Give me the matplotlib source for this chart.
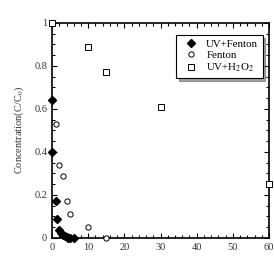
import matplotlib
matplotlib.use("Agg")
import matplotlib.pyplot as plt
from matplotlib.ticker import MultipleLocator

plt.rcParams['font.family'] = ['Liberation Serif', 'DejaVu Serif']
plt.rcParams['mathtext.fontset'] = 'stix'

# UV+Fenton
t_uvf = [0, 0, 1, 1.5, 2, 2.5, 3, 3.5, 4, 4.5, 5, 6]
c_uvf = [0.64, 0.40, 0.17, 0.09, 0.035, 0.025, 0.015, 0.01, 0.005, 0, 0, 0]
# Fenton
t_f = [0, 1, 2, 3, 4, 5, 10, 15]
c_f = [1.0, 0.53, 0.34, 0.29, 0.17, 0.11, 0.05, 0.0]
# UV+H2O2
t_h = [0, 10, 15, 30, 60]
c_h = [1.0, 0.89, 0.77, 0.61, 0.25]

fig = plt.figure(figsize=(2.74, 2.6), dpi=100)
ax = fig.add_axes([0.19, 0.085, 0.792, 0.827])

ax.plot(t_uvf, c_uvf, 'D', color='black', ms=4, label='UV+Fenton', clip_on=False, zorder=5)
ax.plot(t_f, c_f, 'o', mfc='white', mec='black', ms=3.8, mew=0.7, label='Fenton', clip_on=False, zorder=4)
ax.plot(t_h, c_h, 's', mfc='white', mec='black', ms=3.8, mew=0.7, label='UV+H$_2$O$_2$', clip_on=False, zorder=4)

ax.set_xlim(0, 60)
ax.set_ylim(0, 1)
ax.xaxis.set_major_locator(MultipleLocator(10))
ax.xaxis.set_minor_locator(MultipleLocator(2))
ax.yaxis.set_minor_locator(MultipleLocator(0.05))
ax.set_yticks([0, 0.2, 0.4, 0.6, 0.8, 1.0])
ax.set_yticklabels(['0', '0.2', '0.4', '0.6', '0.8', '1'])
ax.tick_params(which='both', direction='in', top=True, right=True, labelsize=7.5,
               width=0.8, labelcolor='#333333')
ax.tick_params(which='major', length=3.5)
ax.tick_params(which='minor', length=2)
for s in ax.spines.values():
    s.set_linewidth(1.2)

ax.set_ylabel('Concentration(C/C$_0$)', fontsize=7.5, labelpad=6, color='#333333')

leg = ax.legend(loc='upper right', fontsize=7.8, fancybox=False, shadow=True,
                edgecolor='black', framealpha=1, handletextpad=0.4,
                borderpad=0.4, labelspacing=0.15, bbox_to_anchor=(0.995, 0.97))
leg.get_frame().set_linewidth(0.8)

fig.savefig('out.png', dpi=100)
